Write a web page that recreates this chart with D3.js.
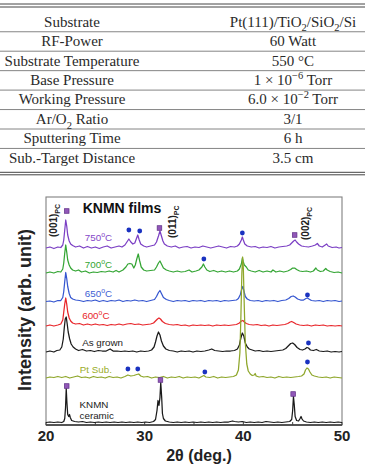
<!DOCTYPE html>
<html>
<head>
<meta charset="utf-8">
<script src="https://cdn.jsdelivr.net/npm/d3@7"></script>
<style>
  body { margin: 0; background: #fff; }
  #graph { width: 365px; height: 466px; }
</style>
</head>
<body>
<div id="graph"></div>
<script>
// Data ///////////////////////////////////////////////////////////////////////
// table rows, as [text, "sub" | "sup"] segments
const tableParams = [
  [["Substrate"]],
  [["RF-Power"]],
  [["Substrate Temperature"]],
  [["Base Pressure"]],
  [["Working Pressure"]],
  [["Ar/O"], ["2", "sub"], [" Ratio"]],
  [["Sputtering Time"]],
  [["Sub.-Target Distance"]]
];

const tableValues = [
  [["Pt(111)/TiO"], ["2", "sub"], ["/SiO"], ["2", "sub"], ["/Si"]],
  [["60 Watt"]],
  [["550 °C"]],
  [["1 × 10"], ["−6", "sup"], [" Torr"]],
  [["6.0 × 10"], ["−2", "sup"], [" Torr"]],
  [["3/1"]],
  [["6 h"]],
  [["3.5 cm"]]
];

const xTicks = [20, 30, 40, 50];
const xMinorTicks = [20, 25, 30, 35, 40, 45, 50];

const seriesLabels = [
  [["750"], ["o", "sup"], ["C"]],
  [["700"], ["o", "sup"], ["C"]],
  [["650"], ["o", "sup"], ["C"]],
  [["600"], ["o", "sup"], ["C"]],
  [["As grown"]],
  [["Pt Sub."]],
  [["KNMN"]]
];

// vertical stacking offset of each scan (arb. unit)
const seriesOffsets = [177, 152, 123.5, 99, 73, 47, 2.5];

// [2theta, intensity above own baseline]
const scan750 = [[20,0],[20.4,1],[20.8,-0.5],[21.2,1],[21.5,0.5],[21.7,3],[21.8,8],[21.9,18],[22.0,28],[22.1,22],[22.2,13],[22.35,7],[22.5,4],[22.7,2.5],[23.0,1],[23.4,2],[23.8,0],[24.2,1.5],[24.6,0],[25.0,1],[25.4,-0.5],[25.8,1],[26.2,2],[26.6,0],[27.0,1],[27.4,2],[27.7,1],[28.0,3],[28.2,6],[28.4,9],[28.6,6],[28.8,4],[29.0,5],[29.15,9],[29.3,13],[29.45,8],[29.6,4],[29.9,2],[30.2,1],[30.6,2],[31.0,3],[31.2,6],[31.4,12],[31.55,17],[31.7,12],[31.85,7],[32.0,4],[32.3,2],[32.7,1],[33.1,2],[33.5,0],[33.9,1],[34.3,1.5],[34.7,0],[35.1,1],[35.5,0.5],[35.9,2],[36.3,1],[36.7,0],[37.1,1],[37.5,2],[37.9,1],[38.3,0],[38.7,1.5],[39.1,1],[39.4,2],[39.6,4],[39.8,8],[39.9,11],[40.0,8],[40.15,4],[40.4,2],[40.8,1],[41.2,1.5],[41.6,0],[42.0,1],[42.4,0.5],[42.8,1.5],[43.2,0],[43.6,1],[44.0,1.5],[44.4,2],[44.7,3],[44.9,5],[45.1,7],[45.25,8],[45.4,6],[45.6,4],[45.9,2],[46.2,1.5],[46.6,1],[47.0,2],[47.3,3],[47.5,4.5],[47.7,2],[48.0,1],[48.3,3],[48.45,4],[48.6,2],[49.0,0.5],[49.4,1],[49.7,0],[50,0.5]];

const scan700 = [[20,0],[20.4,1],[20.8,0],[21.2,1.5],[21.5,1],[21.7,4],[21.8,10],[21.9,20],[22.0,28],[22.1,21],[22.2,13],[22.35,8],[22.5,5],[22.7,3],[23.0,2],[23.3,3],[23.6,1],[24.0,2],[24.4,0],[24.8,1],[25.2,0.5],[25.6,1.5],[26.0,1],[26.4,2],[26.8,1],[27.1,2.5],[27.4,1],[27.8,3],[28.1,6],[28.3,9],[28.5,9.5],[28.7,9],[28.9,5],[29.05,8],[29.2,14],[29.35,19],[29.5,12],[29.65,6],[29.9,3],[30.2,2],[30.6,2.5],[31.0,3],[31.2,6],[31.4,10],[31.55,12],[31.7,9],[31.9,5],[32.2,3],[32.5,2],[32.9,1],[33.3,2],[33.7,1],[34.1,1.5],[34.5,3],[34.8,1],[35.2,2],[35.5,3],[35.8,6],[35.95,9],[36.1,6],[36.3,3],[36.6,1.5],[37.0,2.5],[37.4,1],[37.8,2],[38.2,1],[38.6,2],[39.0,1],[39.4,2],[39.6,4],[39.8,9],[39.9,15],[40.0,11],[40.1,8],[40.3,6],[40.5,3],[40.8,2],[41.2,1],[41.6,2.5],[42.0,1],[42.4,2],[42.8,1],[43.0,3],[43.3,1],[43.7,2],[44.1,1],[44.5,2],[44.8,3.5],[45.0,5],[45.2,5],[45.4,3.5],[45.7,2],[46.0,1.5],[46.4,2],[46.8,1],[47.1,2],[47.35,5],[47.5,3],[47.8,1.5],[48.1,2],[48.35,4.5],[48.5,3],[48.8,1.5],[49.2,0.5],[49.6,1],[50,0]];

const scan650 = [[20,0],[20.4,0.5],[20.8,-0.5],[21.2,1],[21.5,1],[21.7,4],[21.8,10],[21.9,20],[22.0,29],[22.1,23],[22.2,15],[22.35,8],[22.5,4],[22.7,2.5],[23.0,1.5],[23.4,1],[23.8,0],[24.2,1],[24.6,0.5],[25.0,1.5],[25.4,0],[25.8,1],[26.2,0],[26.6,1],[27.0,0.5],[27.4,1.5],[27.8,0],[28.2,1],[28.6,0.5],[29.0,1.5],[29.4,0.5],[29.8,1],[30.2,0],[30.6,1],[31.0,2],[31.2,5],[31.4,9],[31.55,11],[31.7,8],[31.9,4],[32.2,2],[32.5,1],[32.9,0],[33.3,1],[33.7,0.5],[34.1,1],[34.5,0],[34.9,1],[35.3,0.5],[35.7,1],[36.1,0],[36.5,1],[36.9,0.5],[37.3,1],[37.7,0],[38.1,1],[38.5,0.5],[38.9,1],[39.3,1.5],[39.5,3],[39.7,7],[39.85,13],[39.95,15],[40.05,11],[40.2,5],[40.4,2.5],[40.7,1],[41.1,0.5],[41.5,1],[41.9,0],[42.3,1],[42.7,0.5],[43.1,1],[43.5,0],[43.9,1],[44.3,1.5],[44.6,3],[44.85,5],[45.05,5.5],[45.25,4.5],[45.5,2.5],[45.8,1.5],[46.1,1.5],[46.35,3],[46.5,3.5],[46.65,2.5],[46.9,1],[47.3,0.5],[47.7,1],[48.1,0],[48.5,1],[48.9,0.5],[49.3,1],[49.7,0],[50,0.5]];

const scan600 = [[20,0],[20.4,1],[20.8,0],[21.2,1],[21.5,2],[21.7,6],[21.8,14],[21.9,22],[22.0,28],[22.1,22],[22.2,14],[22.35,8],[22.5,5],[22.7,3],[23.0,2],[23.4,2.5],[23.8,1],[24.2,2],[24.6,1],[25.0,2],[25.4,1],[25.8,1.5],[26.2,0.5],[26.6,1.5],[27.0,1],[27.4,2],[27.8,1],[28.2,2],[28.6,2.5],[29.0,1.5],[29.4,2],[29.8,1],[30.2,1.5],[30.6,2],[30.9,3],[31.1,5],[31.3,7],[31.45,8],[31.6,7],[31.8,4.5],[32.1,2.5],[32.5,1.5],[32.9,1],[33.3,1.5],[33.7,0.5],[34.1,1],[34.5,0],[34.9,1],[35.3,0.5],[35.7,1],[36.1,0.5],[36.5,1],[36.9,0],[37.3,1],[37.7,0.5],[38.1,1],[38.5,0.5],[38.9,1],[39.3,1.5],[39.6,3],[39.8,5],[39.95,5.5],[40.1,4],[40.3,2.5],[40.6,1.5],[41.0,1],[41.4,1.5],[41.8,0.5],[42.2,1],[42.6,0],[43.0,1],[43.4,0.5],[43.8,1],[44.2,1.5],[44.5,2.5],[44.75,4],[44.9,4.5],[45.1,3.5],[45.35,2],[45.7,1],[46.1,0.5],[46.5,1],[46.9,0],[47.3,1],[47.7,0.5],[48.1,1],[48.5,0],[48.9,0.5],[49.3,0],[49.7,0.5],[50,0]];

const scanAsGrown = [[20,0],[20.4,1],[20.8,0],[21.1,1.5],[21.4,2],[21.6,5],[21.75,13],[21.85,24],[21.95,33],[22.05,35],[22.15,28],[22.25,20],[22.4,13],[22.55,8],[22.75,5],[23.0,3],[23.3,1.5],[23.7,2.5],[24.1,1],[24.5,1.5],[24.9,0.5],[25.3,1.5],[25.7,1],[26.1,1],[26.5,3],[26.8,1],[27.2,1],[27.6,0.5],[28.0,1],[28.4,0.5],[28.8,1],[29.2,0],[29.6,1],[30.0,0.5],[30.4,1],[30.7,2],[30.95,5],[31.1,10],[31.25,16],[31.4,20],[31.55,17],[31.7,11],[31.9,6],[32.15,3],[32.5,1.5],[32.9,1],[33.3,0],[33.7,1],[34.1,0.5],[34.5,1],[34.9,0],[35.3,1],[35.7,0.5],[36.1,1],[36.5,2],[36.8,3],[37.1,1.5],[37.5,1],[37.9,0.5],[38.3,1],[38.7,1],[39.1,1.5],[39.4,3],[39.6,7],[39.75,14],[39.9,19],[40.05,16],[40.2,9],[40.4,5],[40.6,3],[40.9,2],[41.2,1],[41.6,1.5],[42.0,0.5],[42.4,1],[42.8,0.5],[43.2,1],[43.6,1.5],[44.0,2],[44.3,3.5],[44.55,6],[44.8,8.5],[45.0,9],[45.2,7.5],[45.45,4.5],[45.75,2.5],[46.0,2],[46.25,3],[46.45,4.5],[46.6,4],[46.8,2],[47.1,1.5],[47.4,2.5],[47.7,1],[48.1,0.5],[48.5,1],[48.9,0],[49.3,0.5],[49.7,0],[50,0.5]];

const scanPtSub = [[20,0],[20.4,1],[20.8,0.5],[21.2,1.5],[21.6,0.5],[22.0,1.5],[22.4,0],[22.8,1],[23.2,2],[23.6,0.5],[24.0,1],[24.4,0],[24.8,1.5],[25.2,0.5],[25.6,1],[26.0,0],[26.4,1.5],[26.8,0.5],[27.2,1],[27.6,0],[28.0,1.5],[28.3,3],[28.6,2],[28.9,2.5],[29.2,3.5],[29.4,4],[29.6,2],[29.9,1],[30.3,1.5],[30.7,0],[31.1,1],[31.5,0.5],[31.9,1.5],[32.3,0],[32.7,1],[33.1,0.5],[33.5,1.5],[33.9,0],[34.3,1],[34.7,0.5],[35.1,1],[35.5,0],[35.8,1.5],[36.0,2.5],[36.2,1],[36.6,0.5],[37.0,1.5],[37.4,0],[37.8,1],[38.2,0.5],[38.6,1],[39.0,1.5],[39.3,3],[39.5,8],[39.65,25],[39.75,60],[39.85,105],[39.93,121],[40.0,110],[40.1,70],[40.2,35],[40.35,14],[40.5,7],[40.7,4],[40.9,2.5],[41.1,3],[41.2,4.5],[41.3,2],[41.6,1],[42.0,1.5],[42.4,0.5],[42.8,1],[43.2,0],[43.6,1.5],[44.0,0.5],[44.4,1],[44.8,0.5],[45.2,1],[45.6,1.5],[45.9,2],[46.15,4],[46.3,8],[46.45,10],[46.6,9],[46.75,6],[46.95,3],[47.2,2],[47.6,1],[48.0,0.5],[48.4,1],[48.8,0],[49.2,1],[49.6,0.5],[50,0]];

const scanCeramic = [[20,0],[20.4,0.5],[20.8,0],[21.2,0.5],[21.6,0],[21.8,1],[21.9,4],[21.98,15],[22.05,34],[22.12,20],[22.2,8],[22.3,6],[22.38,8],[22.46,5],[22.6,2],[22.9,1],[23.3,0.5],[23.7,1],[24.1,0],[24.5,0.5],[24.9,0],[25.3,0.5],[25.7,0],[26.1,0.5],[26.5,0],[26.9,0.5],[27.3,0],[27.7,0.5],[28.1,0],[28.5,0.5],[28.9,0],[29.3,0.5],[29.7,0],[30.1,0.5],[30.5,0],[30.9,1],[31.1,3],[31.25,12],[31.35,22],[31.45,17],[31.55,25],[31.63,40],[31.72,26],[31.8,9],[31.9,4],[32.1,1.5],[32.5,0.5],[32.9,0],[33.3,0.5],[33.7,0],[34.1,0.5],[34.5,0],[34.9,0.5],[35.3,0],[35.7,0.5],[36.1,0],[36.5,0.5],[36.9,0],[37.3,0.5],[37.7,0],[38.1,0.5],[38.5,0.5],[38.9,1.5],[39.1,1],[39.5,0.5],[39.9,1],[40.3,0],[40.7,0.5],[41.1,0],[41.5,0.5],[41.9,0],[42.3,1],[42.7,0.5],[43.1,0],[43.5,0.5],[43.9,0],[44.3,0.5],[44.7,1],[44.9,3],[45.0,12],[45.08,26],[45.16,18],[45.25,6],[45.4,2],[45.6,1.5],[45.75,4],[45.85,6],[45.95,3.5],[46.1,1.5],[46.4,0.5],[46.8,0],[47.2,0.5],[47.6,0],[48.0,0.5],[48.4,0],[48.8,0.5],[49.2,0],[49.6,0.5],[50,0]];

const scans = [scan750, scan700, scan650, scan600, scanAsGrown, scanPtSub, scanCeramic];

// perovskite peaks (squares) and secondary phase (dots): [2theta, absolute level]
const perovskitePeaks = [[22.1, 214], [31.5, 197], [45.2, 190], [22.1, 39], [31.6, 45], [45.05, 31]];
const secondaryPeaks = [[28.4, 195], [29.5, 194], [39.9, 192], [36.0, 166], [46.5, 130], [46.6, 82],
  [28.3, 56], [29.3, 56], [36.1, 53], [46.5, 63]];

const planeNames = ["(001)", "(011)", "(002)"];

// Layout / style //////////////////////////////////////////////////////////////
const svgWidth = 365;
const svgHeight = 466;
const serif = "'Liberation Serif', 'DejaVu Serif', serif";
const sans = "'Liberation Sans', Arial, sans-serif";
const colors = ["#7b3fc4", "#34a534", "#3556d0", "#e8262b", "#1a1a1a", "#8ea62a", "#1a1a1a"];
const labelColors = ["#8446c8", "#34a534", "#3d5ed4", "#e8262b", "#222", "#9aad2a", "#222"];

const svg = d3
  .select("#graph")
  .append("svg")
  .attr("width", svgWidth)
  .attr("height", svgHeight)
  .style("display", "block");

// rich text helper: segments with sub / sup
function richText(sel, segments, size) {
  let shift = 0;
  segments.forEach(([txt, kind]) => {
    const s = kind === "sub" ? size * 0.32 : kind === "sup" ? -size * 0.42 : 0;
    const t = sel.append("tspan").text(txt);
    if (s !== shift) t.attr("dy", s - shift);
    if (kind) t.attr("font-size", size * 0.7);
    shift = s;
  });
}

// Table ////////////////////////////////////////////////////////////////////////
const table = svg.append("g");
const rowTop = 12.6;
const rowH = 19.45;
const leftCol = 72;
const rightCol = 293;
const tableSize = 15;

[4, 7, 172.3, 174.8].forEach(yy => {
  table.append("line")
    .attr("x1", 0).attr("x2", svgWidth)
    .attr("y1", yy).attr("y2", yy)
    .attr("stroke", "#444").attr("stroke-width", 1);
});
d3.range(1, tableParams.length).forEach(i => {
  const yy = rowTop + i * rowH - 0.3;
  table.append("line")
    .attr("x1", 0).attr("x2", svgWidth)
    .attr("y1", yy).attr("y2", yy)
    .attr("stroke", "#777").attr("stroke-width", 0.9);
});

tableParams.forEach((segs, i) => {
  const base = rowTop + i * rowH + 14;
  const t1 = table.append("text")
    .attr("x", leftCol).attr("y", base)
    .attr("text-anchor", "middle")
    .attr("font-family", serif).attr("font-size", tableSize)
    .attr("fill", "#2a2a2a");
  richText(t1, segs, tableSize);
  const t2 = table.append("text")
    .attr("x", rightCol).attr("y", base)
    .attr("text-anchor", "middle")
    .attr("font-family", serif).attr("font-size", tableSize)
    .attr("fill", "#2a2a2a");
  richText(t2, tableValues[i], tableSize);
});

// Chart ////////////////////////////////////////////////////////////////////////
const x = d3.scaleLinear().domain([20, 50]).range([46, 342]);
const y = d3.scaleLinear().domain([0, 228]).range([425, 197]);

const chart = svg.append("g");

chart.append("rect")
  .attr("x", x(20)).attr("y", y(228))
  .attr("width", x(50) - x(20)).attr("height", y(0) - y(228))
  .attr("fill", "none").attr("stroke", "#808080").attr("stroke-width", 1.1);

chart.append("line")
  .attr("x1", x(20)).attr("x2", x(50))
  .attr("y1", y(0)).attr("y2", y(0))
  .attr("stroke", "#333").attr("stroke-width", 1.3);

chart.selectAll(".tick")
  .data(xMinorTicks)
  .join("line")
  .attr("class", "tick")
  .attr("x1", d => x(d)).attr("x2", d => x(d))
  .attr("y1", y(0)).attr("y2", y(0) - 3)
  .attr("stroke", "#444").attr("stroke-width", 1);

chart.selectAll(".tickLabel")
  .data(xTicks)
  .join("text")
  .attr("class", "tickLabel")
  .attr("x", d => x(d)).attr("y", 440.5)
  .attr("text-anchor", "middle")
  .attr("font-family", sans).attr("font-weight", "bold").attr("font-size", 15)
  .attr("fill", "#222")
  .text(d => d);

chart.append("text")
  .attr("x", 199).attr("y", 461)
  .attr("text-anchor", "middle")
  .attr("font-family", sans).attr("font-weight", "bold").attr("font-size", 16)
  .attr("fill", "#222")
  .text("2θ (deg.)");

chart.append("text")
  .attr("transform", "translate(31, 310) rotate(-90)")
  .attr("text-anchor", "middle")
  .attr("font-family", sans).attr("font-weight", "bold").attr("font-size", 18)
  .attr("fill", "#222")
  .text("Intensity (arb. unit)");

// Scans
const drawOrder = [6, 4, 3, 2, 1, 0, 5];
drawOrder.forEach(i => {
  const line = d3.line()
    .x(d => x(d[0]))
    .y(d => y(d[1] + seriesOffsets[i]));
  chart.append("path")
    .attr("d", line(scans[i]))
    .attr("fill", "none")
    .attr("stroke", colors[i])
    .attr("stroke-width", 1.25)
    .attr("stroke-linejoin", "round");
});

// Scan labels
const labelPos = [[23.94, 10], [23.94, 8.5], [23.94, 8.2], [23.67, 10.3], [23.67, 9.3], [23.43, 8], [23.4, 17.5]];
seriesLabels.forEach((segs, i) => {
  const t = chart.append("text")
    .attr("x", x(labelPos[i][0]))
    .attr("y", y(seriesOffsets[i] + labelPos[i][1]))
    .attr("dy", "0.35em")
    .attr("font-family", sans).attr("font-size", 9.8)
    .attr("fill", labelColors[i]);
  richText(t, segs, 9.8);
});
chart.append("text")
  .attr("x", x(23.4))
  .attr("y", y(seriesOffsets[6] + 6.5))
  .attr("dy", "0.35em")
  .attr("font-family", sans).attr("font-size", 9.8)
  .attr("fill", labelColors[6])
  .text("ceramic");

chart.append("text")
  .attr("x", 122).attr("y", 213)
  .attr("text-anchor", "middle")
  .attr("font-family", sans).attr("font-weight", "bold").attr("font-size", 14)
  .attr("fill", "#111")
  .text("KNMN films");

// Plane labels (rotated)
const planePos = [[20.72, 188], [32.85, 187], [46.3, 185]];
planeNames.forEach((name, i) => {
  const t = chart.append("text")
    .attr("transform", `translate(${x(planePos[i][0])}, ${y(planePos[i][1])}) rotate(-90)`)
    .attr("dy", "0.35em")
    .attr("font-family", sans).attr("font-weight", "bold").attr("font-size", 10)
    .attr("fill", "#222");
  richText(t, [[name], ["PC", "sub"]], 10);
});

// Markers
chart.selectAll(".square")
  .data(perovskitePeaks)
  .join("rect")
  .attr("class", "square")
  .attr("x", d => x(d[0]) - 2.3).attr("y", d => y(d[1]) - 2.3)
  .attr("width", 4.6).attr("height", 4.6)
  .attr("fill", "#9157b8").attr("stroke", "#5e2f86").attr("stroke-width", 0.7);

chart.selectAll(".dot")
  .data(secondaryPeaks)
  .join("circle")
  .attr("class", "dot")
  .attr("cx", d => x(d[0])).attr("cy", d => y(d[1]))
  .attr("r", 2.4)
  .attr("fill", "#1a32c0");
</script>
</body>
</html>
